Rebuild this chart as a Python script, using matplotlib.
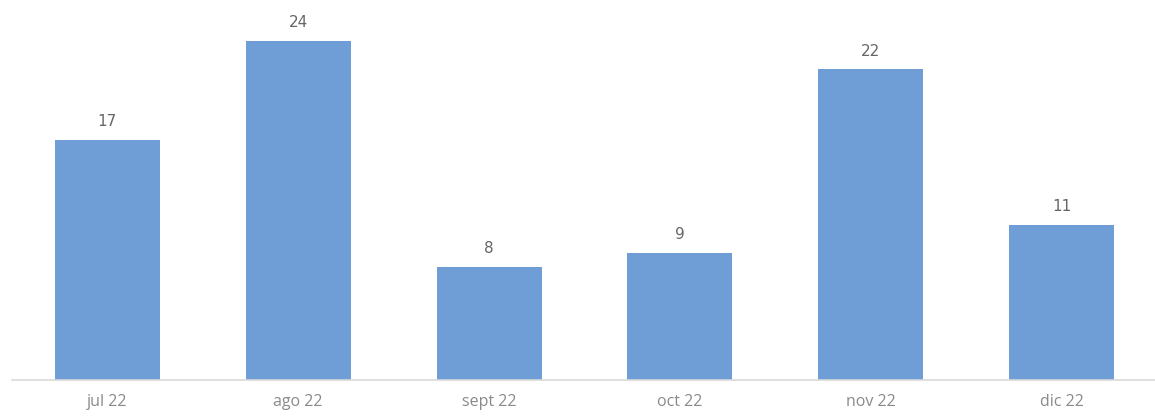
import matplotlib
matplotlib.use("Agg")
import matplotlib.pyplot as plt

categories = ["jul 22", "ago 22", "sept 22", "oct 22", "nov 22", "dic 22"]
values = [17, 24, 8, 9, 22, 11]

W, H = 1155, 418
fig = plt.figure(figsize=(W / 100, H / 100), dpi=100)
left_px, right_px, bottom_px, top_px = 12, 1157, 38, 418
ax = fig.add_axes([left_px / W, bottom_px / H, (right_px - left_px) / W, (top_px - bottom_px) / H])

x = list(range(len(categories)))
bars = ax.bar(x, values, width=0.55, color="#6f9dd6", zorder=2)
ax.set_xlim(-0.5, len(categories) - 0.5)
ax.set_ylim(0, 26.9)

for xi, v in zip(x, values):
    ax.text(xi, v + 0.75, str(v), ha="center", va="bottom", fontsize=11,
            color="#666666", family="DejaVu Sans")

ax.set_xticks(x)
ax.set_xticklabels(categories, fontsize=11.5, color="#8a8a8a", family="Open Sans")
ax.tick_params(axis="x", length=0, pad=10)
ax.set_yticks([])
for s in ["top", "right", "left"]:
    ax.spines[s].set_visible(False)
ax.spines["bottom"].set_color("#d9d9d9")
ax.spines["bottom"].set_linewidth(1.2)

fig.savefig("out.png", dpi=100)
